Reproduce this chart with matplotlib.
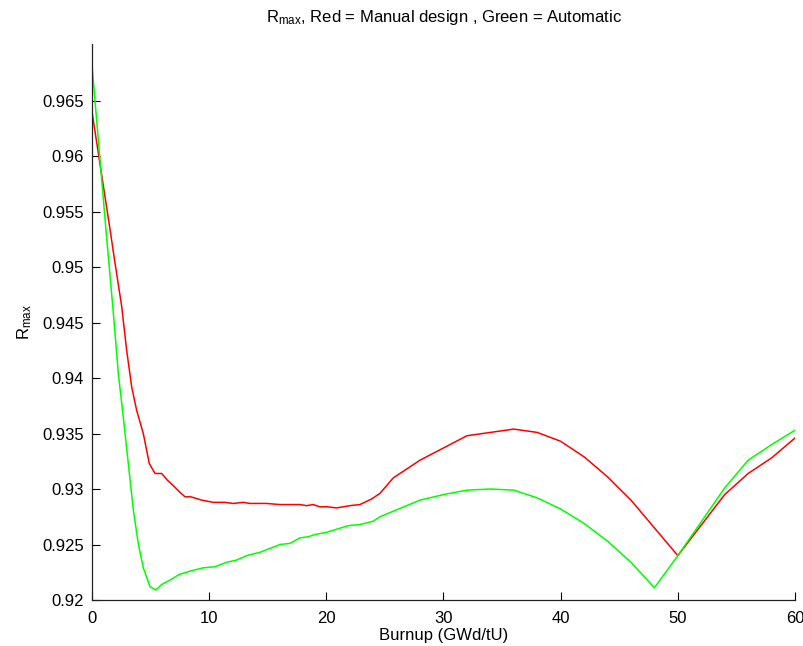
import matplotlib
matplotlib.use('Agg')
import matplotlib.pyplot as plt
from matplotlib.ticker import FuncFormatter

plt.rcParams['font.family'] = ['Liberation Sans', 'DejaVu Sans']
plt.rcParams['mathtext.default'] = 'regular'

# burnup (GWd/tU) and R_max for the manual core design
red_x = [0, 1.54, 1.96, 2.53, 2.96, 3.39, 3.81, 4.38, 4.89, 5.38,
         5.95, 6.43, 6.94, 7.51, 7.94, 8.42, 9.36, 10.35, 11.35, 12.06,
         12.91, 13.48, 14.91, 16.04, 16.89, 17.75, 18.32, 18.88, 19.45, 20.03,
         20.88, 22.01, 22.87, 23.86, 24.57, 25.71, 28, 32, 36, 38,
         40, 42, 44, 46, 50, 54, 56, 58, 60]
red_y = [0.9640, 0.9534, 0.9504, 0.9465, 0.9425, 0.9392, 0.9371, 0.9350, 0.9323, 0.9314,
         0.9314, 0.9308, 0.9303, 0.9297, 0.9293, 0.9293, 0.9290, 0.9288, 0.9288, 0.9287,
         0.9288, 0.9287, 0.9287, 0.9286, 0.9286, 0.9286, 0.9285, 0.9286, 0.9284, 0.9284,
         0.9283, 0.9285, 0.9286, 0.9291, 0.9296, 0.9310, 0.9326, 0.9348, 0.9354, 0.9351,
         0.9343, 0.9329, 0.9311, 0.9290, 0.9240, 0.9295, 0.9314, 0.9328, 0.9346]

# automatic design
green_x = [0, 1.19, 1.82, 2.25, 2.67, 3.10, 3.53, 3.95, 4.38, 4.95,
           5.46, 5.95, 6.66, 7.45, 8.36, 9.50, 10.49, 11.49, 12.35, 13.20,
           14.33, 15.33, 16.04, 16.89, 17.75, 18.46, 19.03, 20.03, 21.87, 22.87,
           24.00, 24.57, 28, 30, 32, 34, 36, 38, 40, 42,
           44, 46, 48, 50, 54, 56, 58, 60]
green_y = [0.9682, 0.9534, 0.9459, 0.9404, 0.9365, 0.9323, 0.9281, 0.9251, 0.9229, 0.9212,
           0.9209, 0.9214, 0.9218, 0.9223, 0.9226, 0.9229, 0.9230, 0.9234, 0.9236, 0.9240,
           0.9243, 0.9247, 0.9250, 0.9251, 0.9256, 0.9257, 0.9259, 0.9261, 0.9267, 0.9268,
           0.9271, 0.9275, 0.9290, 0.9295, 0.9299, 0.9300, 0.9299, 0.9292, 0.9282, 0.9269,
           0.9253, 0.9234, 0.9211, 0.9240, 0.9301, 0.9326, 0.9340, 0.9353]

x_ticks = [0, 10, 20, 30, 40, 50, 60]
y_ticks = [0.92, 0.925, 0.93, 0.935, 0.94, 0.945, 0.95, 0.955, 0.96, 0.965]

fs = 12

fig = plt.figure(figsize=(8.04, 6.46), dpi=100)
ax = fig.add_axes([0.1144, 0.0712, 0.8744, 0.8607])

ax.plot(red_x, red_y, color=(1, 0, 0), lw=1.1)
ax.plot(green_x, green_y, color=(0, 1, 0), lw=1.1)

ax.set_xlim(0, 60)
ax.set_ylim(0.92, 0.9701)
ax.set_xticks(x_ticks)
ax.set_yticks(y_ticks)
ax.yaxis.set_major_formatter(FuncFormatter(lambda v, p: '%g' % v))
ax.tick_params(direction='in', length=6, width=0.8, labelsize=fs, colors='black')
ax.tick_params(axis='x', pad=8)
ax.tick_params(axis='y', pad=6)

ax.spines['top'].set_visible(False)
ax.spines['right'].set_visible(False)
for s in ['left', 'bottom']:
    ax.spines[s].set_linewidth(0.9)
    ax.spines[s].set_color('#222222')

ax.set_xlabel('Burnup (GWd/tU)', fontsize=fs, labelpad=1)
ax.set_ylabel('R$_{max}$', fontsize=fs, labelpad=6)
ax.set_title('R$_{max}$, Red = Manual design , Green = Automatic', fontsize=fs, pad=16)

fig.savefig('out.png', dpi=100)
